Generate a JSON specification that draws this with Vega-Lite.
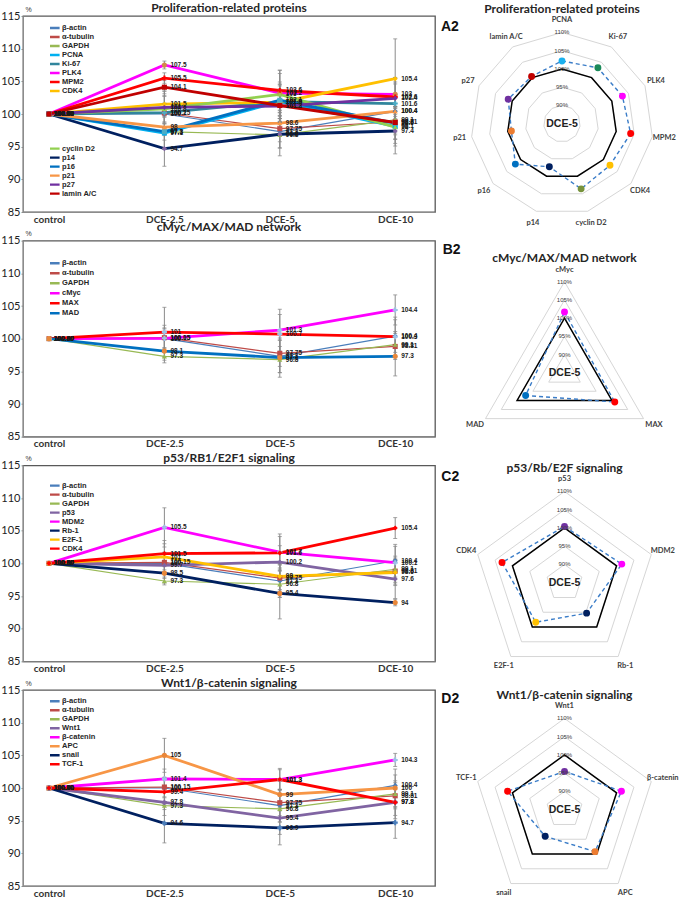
{
"$schema":"https://vega.github.io/schema/vega-lite/v6.json",
"padding":0,
"background":"#ffffff",
"config":{"font":"Lato","view":{"stroke":"#595959","strokeWidth":1.3},"axis":{"grid":false},"title":{"fontSize":12,"fontWeight":"bold","color":"#262626","font":"Lato","anchor":"middle","frame":"group"},"legend":{"symbolType":"M-1.7,0H1.7","symbolStrokeWidth":2.4,"symbolSize":36,"labelFontSize":7.5,"labelFontWeight":"bold","labelFont":"Liberation Sans","labelColor":"#262626","padding":0,"labelOffset":3,"rowPadding":0},"text":{"font":"Liberation Sans"}},
"datasets":{
"linesA":[
{"s":"β-actin","d":"control","v":100,"sd":0},{"s":"β-actin","d":"DCE-2.5","v":100.0,"sd":1.5},{"s":"β-actin","d":"DCE-5","v":97.3,"sd":2.5},{"s":"β-actin","d":"DCE-10","v":100.4,"sd":2.5},
{"s":"α-tubulin","d":"control","v":100,"sd":0},{"s":"α-tubulin","d":"DCE-2.5","v":100.15,"sd":1.5},{"s":"α-tubulin","d":"DCE-5","v":97.75,"sd":2.0},{"s":"α-tubulin","d":"DCE-10","v":98.81,"sd":2.0},
{"s":"GAPDH","d":"control","v":100,"sd":0},{"s":"GAPDH","d":"DCE-2.5","v":97.3,"sd":0.6},{"s":"GAPDH","d":"DCE-5","v":96.8,"sd":2.0},{"s":"GAPDH","d":"DCE-10","v":99.1,"sd":2.0},
{"s":"PCNA","d":"control","v":100,"sd":0},{"s":"PCNA","d":"DCE-2.5","v":97.1,"sd":2.5},{"s":"PCNA","d":"DCE-5","v":101.9,"sd":2.6},{"s":"PCNA","d":"DCE-10","v":98.1,"sd":3.0},
{"s":"Ki-67","d":"control","v":100,"sd":0},{"s":"Ki-67","d":"DCE-2.5","v":100.2,"sd":2.5},{"s":"Ki-67","d":"DCE-5","v":101.9,"sd":3.0},{"s":"Ki-67","d":"DCE-10","v":101.6,"sd":3.0},
{"s":"PLK4","d":"control","v":100,"sd":0},{"s":"PLK4","d":"DCE-2.5","v":107.5,"sd":0.6},{"s":"PLK4","d":"DCE-5","v":103.2,"sd":3.0},{"s":"PLK4","d":"DCE-10","v":103.0,"sd":2.5},
{"s":"MPM2","d":"control","v":100,"sd":0},{"s":"MPM2","d":"DCE-2.5","v":105.5,"sd":0.8},{"s":"MPM2","d":"DCE-5","v":103.6,"sd":3.1},{"s":"MPM2","d":"DCE-10","v":102.6,"sd":3.0},
{"s":"CDK4","d":"control","v":100,"sd":0},{"s":"CDK4","d":"DCE-2.5","v":101.5,"sd":2.0},{"s":"CDK4","d":"DCE-5","v":101.8,"sd":2.5},{"s":"CDK4","d":"DCE-10","v":105.4,"sd":6.1},
{"s":"cyclin D2","d":"control","v":100,"sd":0},{"s":"cyclin D2","d":"DCE-2.5","v":100.8,"sd":2.0},{"s":"cyclin D2","d":"DCE-5","v":103.0,"sd":3.7},{"s":"cyclin D2","d":"DCE-10","v":98.0,"sd":2.5},
{"s":"p14","d":"control","v":100,"sd":0},{"s":"p14","d":"DCE-2.5","v":94.7,"sd":2.7},{"s":"p14","d":"DCE-5","v":96.9,"sd":3.3},{"s":"p14","d":"DCE-10","v":97.4,"sd":3.5},
{"s":"p16","d":"control","v":100,"sd":0},{"s":"p16","d":"DCE-2.5","v":97.3,"sd":2.5},{"s":"p16","d":"DCE-5","v":102.1,"sd":2.5},{"s":"p16","d":"DCE-10","v":98.6,"sd":2.5},
{"s":"p21","d":"control","v":100,"sd":0},{"s":"p21","d":"DCE-2.5","v":98.0,"sd":2.0},{"s":"p21","d":"DCE-5","v":98.6,"sd":2.0},{"s":"p21","d":"DCE-10","v":100.4,"sd":2.5},
{"s":"p27","d":"control","v":100,"sd":0},{"s":"p27","d":"DCE-2.5","v":101.0,"sd":2.5},{"s":"p27","d":"DCE-5","v":101.2,"sd":2.5},{"s":"p27","d":"DCE-10","v":102.4,"sd":2.5},
{"s":"lamin A/C","d":"control","v":100,"sd":0},{"s":"lamin A/C","d":"DCE-2.5","v":104.1,"sd":1.0},{"s":"lamin A/C","d":"DCE-5","v":101.3,"sd":2.5},{"s":"lamin A/C","d":"DCE-10","v":98.7,"sd":2.5}
],
"linesB":[
{"s":"β-actin","d":"control","v":100,"sd":0},{"s":"β-actin","d":"DCE-2.5","v":100.0,"sd":1.5},{"s":"β-actin","d":"DCE-5","v":97.3,"sd":2.5},{"s":"β-actin","d":"DCE-10","v":100.4,"sd":2.5},
{"s":"α-tubulin","d":"control","v":100,"sd":0},{"s":"α-tubulin","d":"DCE-2.5","v":100.15,"sd":1.5},{"s":"α-tubulin","d":"DCE-5","v":97.75,"sd":2.0},{"s":"α-tubulin","d":"DCE-10","v":98.81,"sd":2.0},
{"s":"GAPDH","d":"control","v":100,"sd":0},{"s":"GAPDH","d":"DCE-2.5","v":97.3,"sd":0.6},{"s":"GAPDH","d":"DCE-5","v":96.8,"sd":2.0},{"s":"GAPDH","d":"DCE-10","v":99.1,"sd":2.0},
{"s":"cMyc","d":"control","v":100,"sd":0},{"s":"cMyc","d":"DCE-2.5","v":100.05,"sd":2.0},{"s":"cMyc","d":"DCE-5","v":101.3,"sd":3.2},{"s":"cMyc","d":"DCE-10","v":104.4,"sd":2.3},
{"s":"MAX","d":"control","v":100,"sd":0},{"s":"MAX","d":"DCE-2.5","v":101.0,"sd":3.8},{"s":"MAX","d":"DCE-5","v":100.7,"sd":3.0},{"s":"MAX","d":"DCE-10","v":100.3,"sd":3.0},
{"s":"MAD","d":"control","v":100,"sd":0},{"s":"MAD","d":"DCE-2.5","v":98.1,"sd":1.8},{"s":"MAD","d":"DCE-5","v":97.1,"sd":3.0},{"s":"MAD","d":"DCE-10","v":97.3,"sd":3.0}
],
"linesC":[
{"s":"β-actin","d":"control","v":100,"sd":0},{"s":"β-actin","d":"DCE-2.5","v":100.0,"sd":1.5},{"s":"β-actin","d":"DCE-5","v":97.3,"sd":2.5},{"s":"β-actin","d":"DCE-10","v":100.4,"sd":2.5},
{"s":"α-tubulin","d":"control","v":100,"sd":0},{"s":"α-tubulin","d":"DCE-2.5","v":100.15,"sd":1.5},{"s":"α-tubulin","d":"DCE-5","v":97.75,"sd":2.0},{"s":"α-tubulin","d":"DCE-10","v":98.81,"sd":2.0},
{"s":"GAPDH","d":"control","v":100,"sd":0},{"s":"GAPDH","d":"DCE-2.5","v":97.3,"sd":0.6},{"s":"GAPDH","d":"DCE-5","v":96.8,"sd":2.0},{"s":"GAPDH","d":"DCE-10","v":99.1,"sd":2.0},
{"s":"p53","d":"control","v":100,"sd":0},{"s":"p53","d":"DCE-2.5","v":99.7,"sd":2.0},{"s":"p53","d":"DCE-5","v":100.2,"sd":2.5},{"s":"p53","d":"DCE-10","v":97.6,"sd":3.0},
{"s":"MDM2","d":"control","v":100,"sd":0},{"s":"MDM2","d":"DCE-2.5","v":105.5,"sd":3.0},{"s":"MDM2","d":"DCE-5","v":101.7,"sd":2.8},{"s":"MDM2","d":"DCE-10","v":100.1,"sd":2.5},
{"s":"Rb-1","d":"control","v":100,"sd":0},{"s":"Rb-1","d":"DCE-2.5","v":98.5,"sd":1.5},{"s":"Rb-1","d":"DCE-5","v":95.4,"sd":3.9},{"s":"Rb-1","d":"DCE-10","v":94.0,"sd":0.5},
{"s":"E2F-1","d":"control","v":100,"sd":0},{"s":"E2F-1","d":"DCE-2.5","v":101.0,"sd":2.0},{"s":"E2F-1","d":"DCE-5","v":98.0,"sd":2.0},{"s":"E2F-1","d":"DCE-10","v":98.6,"sd":2.0},
{"s":"CDK4","d":"control","v":100,"sd":0},{"s":"CDK4","d":"DCE-2.5","v":101.5,"sd":2.0},{"s":"CDK4","d":"DCE-5","v":101.6,"sd":2.5},{"s":"CDK4","d":"DCE-10","v":105.4,"sd":1.6}
],
"linesD":[
{"s":"β-actin","d":"control","v":100,"sd":0},{"s":"β-actin","d":"DCE-2.5","v":100.0,"sd":1.5},{"s":"β-actin","d":"DCE-5","v":97.3,"sd":2.5},{"s":"β-actin","d":"DCE-10","v":100.4,"sd":2.5},
{"s":"α-tubulin","d":"control","v":100,"sd":0},{"s":"α-tubulin","d":"DCE-2.5","v":100.15,"sd":1.5},{"s":"α-tubulin","d":"DCE-5","v":97.75,"sd":2.0},{"s":"α-tubulin","d":"DCE-10","v":98.81,"sd":2.0},
{"s":"GAPDH","d":"control","v":100,"sd":0},{"s":"GAPDH","d":"DCE-2.5","v":97.3,"sd":0.6},{"s":"GAPDH","d":"DCE-5","v":96.8,"sd":2.0},{"s":"GAPDH","d":"DCE-10","v":99.1,"sd":2.0},
{"s":"Wnt1","d":"control","v":100,"sd":0},{"s":"Wnt1","d":"DCE-2.5","v":97.8,"sd":2.0},{"s":"Wnt1","d":"DCE-5","v":95.4,"sd":2.5},{"s":"Wnt1","d":"DCE-10","v":97.8,"sd":2.5},
{"s":"β-catenin","d":"control","v":100,"sd":0},{"s":"β-catenin","d":"DCE-2.5","v":101.4,"sd":1.5},{"s":"β-catenin","d":"DCE-5","v":101.3,"sd":1.7},{"s":"β-catenin","d":"DCE-10","v":104.3,"sd":1.0},
{"s":"APC","d":"control","v":100,"sd":0},{"s":"APC","d":"DCE-2.5","v":105.0,"sd":2.6},{"s":"APC","d":"DCE-5","v":99.0,"sd":2.0},{"s":"APC","d":"DCE-10","v":100.0,"sd":2.0},
{"s":"snail","d":"control","v":100,"sd":0},{"s":"snail","d":"DCE-2.5","v":94.6,"sd":3.0},{"s":"snail","d":"DCE-5","v":93.9,"sd":2.6},{"s":"snail","d":"DCE-10","v":94.7,"sd":2.4},
{"s":"TCF-1","d":"control","v":100,"sd":0},{"s":"TCF-1","d":"DCE-2.5","v":99.4,"sd":2.0},{"s":"TCF-1","d":"DCE-5","v":101.3,"sd":1.5},{"s":"TCF-1","d":"DCE-10","v":97.8,"sd":2.0}
],
"radarA":[
{"k":"PCNA","i":0,"n":11,"v":102.2,"c":100,"lev":[90,95,100,105,110]},
{"k":"Ki-67","i":1,"n":11,"v":103.2,"c":100,"lev":[90,95,100,105,110]},
{"k":"PLK4","i":2,"n":11,"v":103.2,"c":100,"lev":[90,95,100,105,110]},
{"k":"MPM2","i":3,"n":11,"v":104.0,"c":100,"lev":[90,95,100,105,110]},
{"k":"CDK4","i":4,"n":11,"v":102.4,"c":100,"lev":[90,95,100,105,110]},
{"k":"cyclin D2","i":5,"n":11,"v":103.6,"c":100,"lev":[90,95,100,105,110]},
{"k":"p14","i":6,"n":11,"v":97.3,"c":100,"lev":[90,95,100,105,110]},
{"k":"p16","i":7,"n":11,"v":101.9,"c":100,"lev":[90,95,100,105,110]},
{"k":"p21","i":8,"n":11,"v":99.0,"c":100,"lev":[90,95,100,105,110]},
{"k":"p27","i":9,"n":11,"v":101.2,"c":100,"lev":[90,95,100,105,110]},
{"k":"lamin A/C","i":10,"n":11,"v":100.4,"c":100,"lev":[90,95,100,105,110]}
],
"radarB":[
{"k":"cMyc","i":0,"n":3,"v":101.7,"c":100,"lev":[90,95,100,105,110]},
{"k":"MAX","i":1,"n":3,"v":100.9,"c":100,"lev":[90,95,100,105,110]},
{"k":"MAD","i":2,"n":3,"v":97.3,"c":100,"lev":[90,95,100,105,110]}
],
"radarC":[
{"k":"p53","i":0,"n":5,"v":100.4,"c":100,"lev":[90,95,100,105,110]},
{"k":"MDM2","i":1,"n":5,"v":101.5,"c":100,"lev":[90,95,100,105,110]},
{"k":"Rb-1","i":2,"n":5,"v":95.3,"c":100,"lev":[90,95,100,105,110]},
{"k":"E2F-1","i":3,"n":5,"v":98.4,"c":100,"lev":[90,95,100,105,110]},
{"k":"CDK4","i":4,"n":5,"v":103.0,"c":100,"lev":[90,95,100,105,110]}
],
"radarD":[
{"k":"Wnt1","i":0,"n":5,"v":95.5,"c":100,"lev":[90,95,100,105,110]},
{"k":"β-catenin","i":1,"n":5,"v":101.4,"c":100,"lev":[90,95,100,105,110]},
{"k":"APC","i":2,"n":5,"v":99.2,"c":100,"lev":[90,95,100,105,110]},
{"k":"snail","i":3,"n":5,"v":94.0,"c":100,"lev":[90,95,100,105,110]},
{"k":"TCF-1","i":4,"n":5,"v":101.4,"c":100,"lev":[90,95,100,105,110]}
],
"ringlab":[{"lev":90,"lab":"90%"},{"lev":95,"lab":"95%"},{"lev":100,"lab":"100%"},{"lev":105,"lab":"105%"},{"lev":110,"lab":"110%"}]
},
"columns":2,
"spacing":{"row":28.67,"column":10},
"bounds":"flush",
"resolve":{"scale":{"color":"independent","shape":"independent","x":"independent","y":"independent"},"legend":{"color":"independent"}},
"concat":[
{"width":412,"height":196,"title":{"text":"Proliferation-related proteins","offset":-9.5},"data":{"name":"linesA"},
"encoding":{"y":{"field":"v","type":"quantitative","title":"%","scale":{"domain":[85,115],"nice":false,"zero":false},"axis":{"values":[85,90,95,100,105,110,115],"grid":false,"labelFont":"Lato","labelFontSize":11,"labelColor":"#222222","labelPadding":1,"tickSize":2,"tickColor":"#8c8c8c","domainColor":"#8c8c8c","titleAngle":0,"titleAlign":"left","titleBaseline":"middle","titleX":2,"titleY":-7,"titleFontSize":7,"titleFontWeight":"normal","titleFont":"Liberation Sans","titleColor":"#333333"}}},
"layer":[
{"data":{"values":[{}]},"mark":{"type":"rule","color":"#c9baa8","strokeWidth":1.3},"encoding":{"y":{"datum":105,"type":"quantitative"}}},
{"data":{"values":[{}]},"mark":{"type":"rule","color":"#c9baa8","strokeWidth":1.3},"encoding":{"y":{"datum":95,"type":"quantitative"}}},
{"layer":[
{"transform":[{"filter":{"field":"s","oneOf":["β-actin","α-tubulin","GAPDH"]}}],"mark":{"type":"line","strokeWidth":1.2},"encoding":{"x":{"field":"d","type":"ordinal","sort":["control","DCE-2.5","DCE-5","DCE-10"],"scale":{"type":"point","domain":["control","DCE-2.5","DCE-5","DCE-10"],"padding":0.285,"align":0.395},"title":null,"axis":{"labelAngle":0,"ticks":false,"domainColor":"#8c8c8c","labelFont":"Lato","labelFontSize":10,"labelFontWeight":"bold","labelColor":"#333333","labelPadding":2}},"color":{"field":"s","type":"nominal","scale":{"domain":["β-actin","α-tubulin","GAPDH","PCNA","Ki-67","PLK4","MPM2","CDK4"],"range":["#4a7ebb","#be4b48","#98b954","#00b0f0","#31859c","#ff00ff","#ff0000","#ffc000"]},"legend":{"title":null,"orient":"none","legendX":27,"legendY":7.8,"rowPadding":0,"clipHeight":8.4,"symbolType":"M-1.7,0H1.7","symbolSize":36,"symbolStrokeWidth":2.4,"labelOffset":3}}}},
{"transform":[{"filter":{"field":"s","oneOf":["PCNA","Ki-67","PLK4","MPM2","CDK4"]}}],"mark":{"type":"line","strokeWidth":2.8},"encoding":{"x":{"field":"d","type":"ordinal","sort":["control","DCE-2.5","DCE-5","DCE-10"],"title":null},"color":{"field":"s","type":"nominal","scale":{"domain":["β-actin","α-tubulin","GAPDH","PCNA","Ki-67","PLK4","MPM2","CDK4"],"range":["#4a7ebb","#be4b48","#98b954","#00b0f0","#31859c","#ff00ff","#ff0000","#ffc000"]},"legend":{"title":null,"orient":"none","legendX":27,"legendY":7.8,"rowPadding":0,"clipHeight":8.4,"symbolType":"M-1.7,0H1.7","symbolSize":36,"symbolStrokeWidth":2.4,"labelOffset":3}}}}
]},
{"transform":[{"filter":{"field":"s","oneOf":["cyclin D2","p14","p16","p21","p27","lamin A/C"]}}],"mark":{"type":"line","strokeWidth":2.8},"encoding":{"x":{"field":"d","type":"ordinal","sort":["control","DCE-2.5","DCE-5","DCE-10"],"title":null},"color":{"field":"s","type":"nominal","scale":{"domain":["cyclin D2","p14","p16","p21","p27","lamin A/C"],"range":["#92d050","#002060","#0070c0","#f79646","#7030a0","#c00000"]},"legend":{"title":null,"orient":"none","legendX":27,"legendY":128.5,"rowPadding":0,"clipHeight":8.3,"symbolType":"M-1.7,0H1.7","symbolSize":36,"symbolStrokeWidth":2.4,"labelOffset":3}}}},
{"transform":[{"filter":"datum.d != 'control'"}],"mark":{"type":"errorbar","ticks":{"size":4,"color":"#7f7f7f"},"rule":{"color":"#8a8a8a","strokeWidth":1}},"encoding":{"x":{"field":"d","type":"ordinal","title":null},"y":{"field":"v","type":"quantitative","title":"%"},"yError":{"field":"sd"}}},
{"mark":{"type":"point","filled":true,"opacity":1,"size":26},"encoding":{"x":{"field":"d","type":"ordinal","title":null},"color":{"field":"s","type":"nominal","scale":{"domain":["β-actin","α-tubulin","GAPDH","PCNA","Ki-67","PLK4","MPM2","CDK4","cyclin D2","p14","p16","p21","p27","lamin A/C"],"range":["#4a7ebb","#be4b48","#98b954","#00b0f0","#4bacc6","#d2874b","#ff0000","#ffc000","#92d050","#8064a2","#4bacc6","#f79646","#7030a0","#c00000"]},"legend":null},"shape":{"field":"s","type":"nominal","scale":{"domain":["β-actin","α-tubulin","GAPDH","PCNA","Ki-67","PLK4","MPM2","CDK4","cyclin D2","p14","p16","p21","p27","lamin A/C"],"range":["diamond","square","triangle-up","square","cross","circle","cross","diamond","triangle-up","diamond","square","triangle-up","diamond","square"]},"legend":null}}},
{"transform":[{"filter":"datum.d != 'control'"}],"mark":{"type":"text","align":"left","baseline":"middle","dx":6,"fontSize":6.5,"fontWeight":"bold","color":"#1a1a1a"},"encoding":{"x":{"field":"d","type":"ordinal","title":null},"text":{"field":"v","type":"quantitative"}}},
{"transform":[{"filter":"datum.d == 'control'"}],"mark":{"type":"text","align":"left","baseline":"middle","dx":5,"fontSize":6.5,"fontWeight":"bold","color":"#1a1a1a"},"encoding":{"x":{"field":"d","type":"ordinal","title":null},"text":{"field":"v","type":"quantitative","format":".2f"}}},
{"data":{"values":[{}]},"mark":{"type":"text","text":"+5%","align":"left","baseline":"middle","dx":-21,"dy":4,"fontSize":7.5,"color":"#222222"},"encoding":{"x":{"datum":"control","type":"ordinal"},"y":{"datum":105,"type":"quantitative"}}},
{"data":{"values":[{}]},"mark":{"type":"text","text":"-5%","align":"left","baseline":"middle","dx":-21,"dy":-4,"fontSize":7.5,"color":"#222222"},"encoding":{"x":{"datum":"control","type":"ordinal"},"y":{"datum":95,"type":"quantitative"}}},
{"data":{"values":[{}]},"mark":{"type":"text","text":"p < 0.0276","align":"right","baseline":"middle","dx":38,"fontSize":7,"color":"#222222"},"encoding":{"x":{"datum":"DCE-10","type":"ordinal"},"y":{"datum":114.2,"type":"quantitative"}}},
{"data":{"values":[{}]},"mark":{"type":"text","text":"A1","align":"center","baseline":"middle","dx":-15,"fontSize":14,"fontWeight":"bold","color":"#111111"},"encoding":{"x":{"datum":"control","type":"ordinal"},"y":{"datum":113.5,"type":"quantitative"}}}
],
"resolve":{"scale":{"color":"independent","shape":"independent"}}},
{"width":240,"height":196,"view":{"stroke":null},"data":{"name":"radarA"},
"layer":[
{"transform":[{"flatten":["lev"]},{"calculate":"2*PI*datum.i/datum.n","as":"a"},{"calculate":"(datum.lev-85)*sin(datum.a)","as":"gx"},{"calculate":"(datum.lev-85)*cos(datum.a)","as":"gy"}],"mark":{"type":"line","interpolate":"linear-closed","color":"#d6d6d6","strokeWidth":1},"encoding":{"x":{"field":"gx","type":"quantitative","scale":{"domain":[-32.05,33.7],"nice":false,"zero":false},"axis":null},"y":{"field":"gy","type":"quantitative","scale":{"domain":[-24.19,29.51],"nice":false,"zero":false},"axis":null},"detail":{"field":"lev","type":"nominal"},"order":{"field":"i","type":"quantitative"}}},
{"transform":[{"calculate":"2*PI*datum.i/datum.n","as":"a"},{"calculate":"(datum.c-85)*sin(datum.a)","as":"gx"},{"calculate":"(datum.c-85)*cos(datum.a)","as":"gy"}],"mark":{"type":"line","interpolate":"linear-closed","color":"#000000","strokeWidth":1.5},"encoding":{"x":{"field":"gx","type":"quantitative"},"y":{"field":"gy","type":"quantitative"},"order":{"field":"i","type":"quantitative"}}},
{"transform":[{"calculate":"2*PI*datum.i/datum.n","as":"a"},{"calculate":"(datum.v-85)*sin(datum.a)","as":"gx"},{"calculate":"(datum.v-85)*cos(datum.a)","as":"gy"}],"mark":{"type":"line","interpolate":"linear-closed","color":"#3b7dc8","strokeWidth":1.4,"strokeDash":[4,3]},"encoding":{"x":{"field":"gx","type":"quantitative"},"y":{"field":"gy","type":"quantitative"},"order":{"field":"i","type":"quantitative"}}},
{"transform":[{"calculate":"2*PI*datum.i/datum.n","as":"a"},{"calculate":"(datum.v-85)*sin(datum.a)","as":"gx"},{"calculate":"(datum.v-85)*cos(datum.a)","as":"gy"}],"mark":{"type":"point","filled":true,"opacity":1,"size":48},"encoding":{"x":{"field":"gx","type":"quantitative"},"y":{"field":"gy","type":"quantitative"},"color":{"field":"k","type":"nominal","scale":{"domain":["PCNA","Ki-67","PLK4","MPM2","CDK4","cyclin D2","p14","p16","p21","p27","lamin A/C"],"range":["#1ab0ee","#1b8a5a","#ff00ff","#ff0000","#ffc000","#77933c","#002060","#0070c0","#ed7d31","#7030a0","#c00000"]},"legend":null}}},
{"transform":[{"calculate":"2*PI*datum.i/datum.n","as":"a"},{"calculate":"28.3*sin(datum.a)","as":"gx"},{"calculate":"28.3*cos(datum.a)","as":"gy"}],"mark":{"type":"text","align":"center","baseline":"middle","font":"Lato","fontSize":7.5,"fontWeight":"bold","color":"#404040"},"encoding":{"x":{"field":"gx","type":"quantitative"},"y":{"field":"gy","type":"quantitative"},"text":{"field":"k"}}},
{"data":{"name":"ringlab"},"transform":[{"calculate":"datum.lev-85","as":"gy"}],"mark":{"type":"text","align":"center","baseline":"middle","fontSize":6,"color":"#404040"},"encoding":{"x":{"datum":0,"type":"quantitative"},"y":{"field":"gy","type":"quantitative"},"text":{"field":"lab"}}},
{"data":{"values":[{}]},"mark":{"type":"text","text":"DCE-5","align":"center","baseline":"middle","fontSize":10.5,"fontWeight":"bold","color":"#222222"},"encoding":{"x":{"datum":0,"type":"quantitative"},"y":{"datum":0,"type":"quantitative"}}},
{"data":{"values":[{}]},"mark":{"type":"text","text":"Proliferation-related proteins","align":"center","baseline":"middle","font":"Lato","fontSize":12,"fontWeight":"bold","color":"#262626"},"encoding":{"x":{"datum":0,"type":"quantitative"},"y":{"datum":31.5,"type":"quantitative"}}},
{"data":{"values":[{}]},"mark":{"type":"text","text":"A2","align":"center","baseline":"middle","fontSize":14,"fontWeight":"bold","color":"#111111"},"encoding":{"x":{"datum":-30.7,"type":"quantitative"},"y":{"datum":26.5,"type":"quantitative"}}}
]},
{"width":412,"height":196,"title":{"text":"cMyc/MAX/MAD network","offset":-4.8},"data":{"name":"linesB"},
"encoding":{"y":{"field":"v","type":"quantitative","title":"%","scale":{"domain":[85,115],"nice":false,"zero":false},"axis":{"values":[85,90,95,100,105,110,115],"grid":false,"labelFont":"Lato","labelFontSize":11,"labelColor":"#222222","labelPadding":1,"tickSize":2,"tickColor":"#8c8c8c","domainColor":"#8c8c8c","titleAngle":0,"titleAlign":"left","titleBaseline":"middle","titleX":2,"titleY":-7,"titleFontSize":7,"titleFontWeight":"normal","titleFont":"Liberation Sans","titleColor":"#333333"}}},
"layer":[
{"data":{"values":[{}]},"mark":{"type":"rule","color":"#c9baa8","strokeWidth":1.3},"encoding":{"y":{"datum":105,"type":"quantitative"}}},
{"data":{"values":[{}]},"mark":{"type":"rule","color":"#c9baa8","strokeWidth":1.3},"encoding":{"y":{"datum":95,"type":"quantitative"}}},
{"layer":[
{"transform":[{"filter":{"field":"s","oneOf":["β-actin","α-tubulin","GAPDH"]}}],"mark":{"type":"line","strokeWidth":1.2},"encoding":{"x":{"field":"d","type":"ordinal","sort":["control","DCE-2.5","DCE-5","DCE-10"],"scale":{"type":"point","domain":["control","DCE-2.5","DCE-5","DCE-10"],"padding":0.285,"align":0.395},"title":null,"axis":{"labelAngle":0,"ticks":false,"domainColor":"#8c8c8c","labelFont":"Lato","labelFontSize":10,"labelFontWeight":"bold","labelColor":"#333333","labelPadding":2}},"color":{"field":"s","type":"nominal","scale":{"domain":["β-actin","α-tubulin","GAPDH","cMyc","MAX","MAD"],"range":["#4a7ebb","#be4b48","#98b954","#ff00ff","#ff0000","#0070c0"]},"legend":{"title":null,"orient":"none","legendX":27,"legendY":17.9,"rowPadding":0,"clipHeight":9.4,"symbolType":"M-1.7,0H1.7","symbolSize":36,"symbolStrokeWidth":2.4,"labelOffset":3}}}},
{"transform":[{"filter":{"field":"s","oneOf":["cMyc","MAX","MAD"]}}],"mark":{"type":"line","strokeWidth":2.8},"encoding":{"x":{"field":"d","type":"ordinal","sort":["control","DCE-2.5","DCE-5","DCE-10"],"title":null},"color":{"field":"s","type":"nominal","scale":{"domain":["β-actin","α-tubulin","GAPDH","cMyc","MAX","MAD"],"range":["#4a7ebb","#be4b48","#98b954","#ff00ff","#ff0000","#0070c0"]},"legend":{"title":null,"orient":"none","legendX":27,"legendY":17.9,"rowPadding":0,"clipHeight":9.4,"symbolType":"M-1.7,0H1.7","symbolSize":36,"symbolStrokeWidth":2.4,"labelOffset":3}}}}
]},
{"transform":[{"filter":"datum.d != 'control'"}],"mark":{"type":"errorbar","ticks":{"size":4,"color":"#7f7f7f"},"rule":{"color":"#8a8a8a","strokeWidth":1}},"encoding":{"x":{"field":"d","type":"ordinal","title":null},"y":{"field":"v","type":"quantitative","title":"%"},"yError":{"field":"sd"}}},
{"mark":{"type":"point","filled":true,"opacity":1,"size":26},"encoding":{"x":{"field":"d","type":"ordinal","title":null},"color":{"field":"s","type":"nominal","scale":{"domain":["β-actin","α-tubulin","GAPDH","cMyc","MAX","MAD"],"range":["#4a7ebb","#be4b48","#98b954","#9dc3e6","#9dc3e6","#e8873a"]},"legend":null},"shape":{"field":"s","type":"nominal","scale":{"domain":["β-actin","α-tubulin","GAPDH","cMyc","MAX","MAD"],"range":["diamond","square","triangle-up","cross","cross","circle"]},"legend":null}}},
{"transform":[{"filter":"datum.d != 'control'"}],"mark":{"type":"text","align":"left","baseline":"middle","dx":6,"fontSize":6.5,"fontWeight":"bold","color":"#1a1a1a"},"encoding":{"x":{"field":"d","type":"ordinal","title":null},"text":{"field":"v","type":"quantitative"}}},
{"transform":[{"filter":"datum.d == 'control'"}],"mark":{"type":"text","align":"left","baseline":"middle","dx":5,"fontSize":6.5,"fontWeight":"bold","color":"#1a1a1a"},"encoding":{"x":{"field":"d","type":"ordinal","title":null},"text":{"field":"v","type":"quantitative","format":".2f"}}},
{"data":{"values":[{}]},"mark":{"type":"text","text":"+5%","align":"left","baseline":"middle","dx":-21,"dy":4,"fontSize":7.5,"color":"#222222"},"encoding":{"x":{"datum":"control","type":"ordinal"},"y":{"datum":105,"type":"quantitative"}}},
{"data":{"values":[{}]},"mark":{"type":"text","text":"-5%","align":"left","baseline":"middle","dx":-21,"dy":-4,"fontSize":7.5,"color":"#222222"},"encoding":{"x":{"datum":"control","type":"ordinal"},"y":{"datum":95,"type":"quantitative"}}},
{"data":{"values":[{}]},"mark":{"type":"text","text":"p < 0.0284","align":"right","baseline":"middle","dx":38,"fontSize":7,"color":"#222222"},"encoding":{"x":{"datum":"DCE-10","type":"ordinal"},"y":{"datum":114.34,"type":"quantitative"}}},
{"data":{"values":[{}]},"mark":{"type":"text","text":"B1","align":"center","baseline":"middle","dx":-15,"fontSize":14,"fontWeight":"bold","color":"#111111"},"encoding":{"x":{"datum":"control","type":"ordinal"},"y":{"datum":113.4,"type":"quantitative"}}}
],
"resolve":{"scale":{"color":"independent","shape":"independent"}}},
{"width":240,"height":196,"view":{"stroke":null},"data":{"name":"radarB"},
"layer":[
{"transform":[{"flatten":["lev"]},{"calculate":"2*PI*datum.i/datum.n","as":"a"},{"calculate":"(datum.lev-85)*sin(datum.a)","as":"gx"},{"calculate":"(datum.lev-85)*cos(datum.a)","as":"gy"}],"mark":{"type":"line","interpolate":"linear-closed","color":"#d6d6d6","strokeWidth":1},"encoding":{"x":{"field":"gx","type":"quantitative","scale":{"domain":[-32.74,33.01],"nice":false,"zero":false},"axis":null},"y":{"field":"gy","type":"quantitative","scale":{"domain":[-17.44,36.25],"nice":false,"zero":false},"axis":null},"detail":{"field":"lev","type":"nominal"},"order":{"field":"i","type":"quantitative"}}},
{"transform":[{"calculate":"2*PI*datum.i/datum.n","as":"a"},{"calculate":"(datum.c-85)*sin(datum.a)","as":"gx"},{"calculate":"(datum.c-85)*cos(datum.a)","as":"gy"}],"mark":{"type":"line","interpolate":"linear-closed","color":"#000000","strokeWidth":1.5},"encoding":{"x":{"field":"gx","type":"quantitative"},"y":{"field":"gy","type":"quantitative"},"order":{"field":"i","type":"quantitative"}}},
{"transform":[{"calculate":"2*PI*datum.i/datum.n","as":"a"},{"calculate":"(datum.v-85)*sin(datum.a)","as":"gx"},{"calculate":"(datum.v-85)*cos(datum.a)","as":"gy"}],"mark":{"type":"line","interpolate":"linear-closed","color":"#3b7dc8","strokeWidth":1.4,"strokeDash":[4,3]},"encoding":{"x":{"field":"gx","type":"quantitative"},"y":{"field":"gy","type":"quantitative"},"order":{"field":"i","type":"quantitative"}}},
{"transform":[{"calculate":"2*PI*datum.i/datum.n","as":"a"},{"calculate":"(datum.v-85)*sin(datum.a)","as":"gx"},{"calculate":"(datum.v-85)*cos(datum.a)","as":"gy"}],"mark":{"type":"point","filled":true,"opacity":1,"size":48},"encoding":{"x":{"field":"gx","type":"quantitative"},"y":{"field":"gy","type":"quantitative"},"color":{"field":"k","type":"nominal","scale":{"domain":["cMyc","MAX","MAD"],"range":["#ff00ff","#ff0000","#0070c0"]},"legend":null}}},
{"transform":[{"calculate":"2*PI*datum.i/datum.n","as":"a"},{"calculate":"28.3*sin(datum.a)","as":"gx"},{"calculate":"28.3*cos(datum.a)","as":"gy"}],"mark":{"type":"text","align":"center","baseline":"middle","font":"Lato","fontSize":7.5,"fontWeight":"bold","color":"#404040"},"encoding":{"x":{"field":"gx","type":"quantitative"},"y":{"field":"gy","type":"quantitative"},"text":{"field":"k"}}},
{"data":{"name":"ringlab"},"transform":[{"calculate":"datum.lev-85","as":"gy"}],"mark":{"type":"text","align":"center","baseline":"middle","fontSize":6,"color":"#404040"},"encoding":{"x":{"datum":0,"type":"quantitative"},"y":{"field":"gy","type":"quantitative"},"text":{"field":"lab"}}},
{"data":{"values":[{}]},"mark":{"type":"text","text":"DCE-5","align":"center","baseline":"middle","fontSize":10.5,"fontWeight":"bold","color":"#222222"},"encoding":{"x":{"datum":0,"type":"quantitative"},"y":{"datum":0,"type":"quantitative"}}},
{"data":{"values":[{}]},"mark":{"type":"text","text":"cMyc/MAX/MAD network","align":"center","baseline":"middle","font":"Lato","fontSize":12,"fontWeight":"bold","color":"#262626"},"encoding":{"x":{"datum":0,"type":"quantitative"},"y":{"datum":31.5,"type":"quantitative"}}},
{"data":{"values":[{}]},"mark":{"type":"text","text":"B2","align":"center","baseline":"middle","fontSize":14,"fontWeight":"bold","color":"#111111"},"encoding":{"x":{"datum":-30.9,"type":"quantitative"},"y":{"datum":33.7,"type":"quantitative"}}}
]},
{"width":412,"height":196,"title":{"text":"p53/RB1/E2F1 signaling","offset":-10.5},"data":{"name":"linesC"},
"encoding":{"y":{"field":"v","type":"quantitative","title":"%","scale":{"domain":[85,115],"nice":false,"zero":false},"axis":{"values":[85,90,95,100,105,110,115],"grid":false,"labelFont":"Lato","labelFontSize":11,"labelColor":"#222222","labelPadding":1,"tickSize":2,"tickColor":"#8c8c8c","domainColor":"#8c8c8c","titleAngle":0,"titleAlign":"left","titleBaseline":"middle","titleX":2,"titleY":-7,"titleFontSize":7,"titleFontWeight":"normal","titleFont":"Liberation Sans","titleColor":"#333333"}}},
"layer":[
{"data":{"values":[{}]},"mark":{"type":"rule","color":"#c9baa8","strokeWidth":1.3},"encoding":{"y":{"datum":105,"type":"quantitative"}}},
{"data":{"values":[{}]},"mark":{"type":"rule","color":"#c9baa8","strokeWidth":1.3},"encoding":{"y":{"datum":95,"type":"quantitative"}}},
{"layer":[
{"transform":[{"filter":{"field":"s","oneOf":["β-actin","α-tubulin","GAPDH"]}}],"mark":{"type":"line","strokeWidth":1.2},"encoding":{"x":{"field":"d","type":"ordinal","sort":["control","DCE-2.5","DCE-5","DCE-10"],"scale":{"type":"point","domain":["control","DCE-2.5","DCE-5","DCE-10"],"padding":0.285,"align":0.395},"title":null,"axis":{"labelAngle":0,"ticks":false,"domainColor":"#8c8c8c","labelFont":"Lato","labelFontSize":10,"labelFontWeight":"bold","labelColor":"#333333","labelPadding":2}},"color":{"field":"s","type":"nominal","scale":{"domain":["β-actin","α-tubulin","GAPDH","p53","MDM2","Rb-1","E2F-1","CDK4"],"range":["#4a7ebb","#be4b48","#98b954","#8064a2","#ff00ff","#002060","#ffc000","#ff0000"]},"legend":{"title":null,"orient":"none","legendX":27,"legendY":16.35,"rowPadding":0,"clipHeight":7.9,"symbolType":"M-1.7,0H1.7","symbolSize":36,"symbolStrokeWidth":2.4,"labelOffset":3}}}},
{"transform":[{"filter":{"field":"s","oneOf":["p53","MDM2","Rb-1","E2F-1","CDK4"]}}],"mark":{"type":"line","strokeWidth":2.8},"encoding":{"x":{"field":"d","type":"ordinal","sort":["control","DCE-2.5","DCE-5","DCE-10"],"title":null},"color":{"field":"s","type":"nominal","scale":{"domain":["β-actin","α-tubulin","GAPDH","p53","MDM2","Rb-1","E2F-1","CDK4"],"range":["#4a7ebb","#be4b48","#98b954","#8064a2","#ff00ff","#002060","#ffc000","#ff0000"]},"legend":{"title":null,"orient":"none","legendX":27,"legendY":16.35,"rowPadding":0,"clipHeight":7.9,"symbolType":"M-1.7,0H1.7","symbolSize":36,"symbolStrokeWidth":2.4,"labelOffset":3}}}}
]},
{"transform":[{"filter":"datum.d != 'control'"}],"mark":{"type":"errorbar","ticks":{"size":4,"color":"#7f7f7f"},"rule":{"color":"#8a8a8a","strokeWidth":1}},"encoding":{"x":{"field":"d","type":"ordinal","title":null},"y":{"field":"v","type":"quantitative","title":"%"},"yError":{"field":"sd"}}},
{"mark":{"type":"point","filled":true,"opacity":1,"size":26},"encoding":{"x":{"field":"d","type":"ordinal","title":null},"color":{"field":"s","type":"nominal","scale":{"domain":["β-actin","α-tubulin","GAPDH","p53","MDM2","Rb-1","E2F-1","CDK4"],"range":["#4a7ebb","#be4b48","#98b954","#8064a2","#9dc3e6","#e8873a","#ffc000","#ff0000"]},"legend":null},"shape":{"field":"s","type":"nominal","scale":{"domain":["β-actin","α-tubulin","GAPDH","p53","MDM2","Rb-1","E2F-1","CDK4"],"range":["diamond","square","triangle-up","diamond","cross","circle","diamond","diamond"]},"legend":null}}},
{"transform":[{"filter":"datum.d != 'control'"}],"mark":{"type":"text","align":"left","baseline":"middle","dx":6,"fontSize":6.5,"fontWeight":"bold","color":"#1a1a1a"},"encoding":{"x":{"field":"d","type":"ordinal","title":null},"text":{"field":"v","type":"quantitative"}}},
{"transform":[{"filter":"datum.d == 'control'"}],"mark":{"type":"text","align":"left","baseline":"middle","dx":5,"fontSize":6.5,"fontWeight":"bold","color":"#1a1a1a"},"encoding":{"x":{"field":"d","type":"ordinal","title":null},"text":{"field":"v","type":"quantitative","format":".2f"}}},
{"data":{"values":[{}]},"mark":{"type":"text","text":"+5%","align":"left","baseline":"middle","dx":-21,"dy":4,"fontSize":7.5,"color":"#222222"},"encoding":{"x":{"datum":"control","type":"ordinal"},"y":{"datum":105,"type":"quantitative"}}},
{"data":{"values":[{}]},"mark":{"type":"text","text":"-5%","align":"left","baseline":"middle","dx":-21,"dy":-4,"fontSize":7.5,"color":"#222222"},"encoding":{"x":{"datum":"control","type":"ordinal"},"y":{"datum":95,"type":"quantitative"}}},
{"data":{"values":[{}]},"mark":{"type":"text","text":"p < 0.024","align":"right","baseline":"middle","dx":38,"fontSize":7,"color":"#222222"},"encoding":{"x":{"datum":"DCE-10","type":"ordinal"},"y":{"datum":113.95,"type":"quantitative"}}},
{"data":{"values":[{}]},"mark":{"type":"text","text":"C1","align":"center","baseline":"middle","dx":-15,"fontSize":14,"fontWeight":"bold","color":"#111111"},"encoding":{"x":{"datum":"control","type":"ordinal"},"y":{"datum":113.3,"type":"quantitative"}}}
],
"resolve":{"scale":{"color":"independent","shape":"independent"}}},
{"width":240,"height":196,"view":{"stroke":null},"data":{"name":"radarC"},
"layer":[
{"transform":[{"flatten":["lev"]},{"calculate":"2*PI*datum.i/datum.n","as":"a"},{"calculate":"(datum.lev-85)*sin(datum.a)","as":"gx"},{"calculate":"(datum.lev-85)*cos(datum.a)","as":"gy"}],"mark":{"type":"line","interpolate":"linear-closed","color":"#d6d6d6","strokeWidth":1},"encoding":{"x":{"field":"gx","type":"quantitative","scale":{"domain":[-32.74,33.01],"nice":false,"zero":false},"axis":null},"y":{"field":"gy","type":"quantitative","scale":{"domain":[-21.54,32.16],"nice":false,"zero":false},"axis":null},"detail":{"field":"lev","type":"nominal"},"order":{"field":"i","type":"quantitative"}}},
{"transform":[{"calculate":"2*PI*datum.i/datum.n","as":"a"},{"calculate":"(datum.c-85)*sin(datum.a)","as":"gx"},{"calculate":"(datum.c-85)*cos(datum.a)","as":"gy"}],"mark":{"type":"line","interpolate":"linear-closed","color":"#000000","strokeWidth":1.5},"encoding":{"x":{"field":"gx","type":"quantitative"},"y":{"field":"gy","type":"quantitative"},"order":{"field":"i","type":"quantitative"}}},
{"transform":[{"calculate":"2*PI*datum.i/datum.n","as":"a"},{"calculate":"(datum.v-85)*sin(datum.a)","as":"gx"},{"calculate":"(datum.v-85)*cos(datum.a)","as":"gy"}],"mark":{"type":"line","interpolate":"linear-closed","color":"#3b7dc8","strokeWidth":1.4,"strokeDash":[4,3]},"encoding":{"x":{"field":"gx","type":"quantitative"},"y":{"field":"gy","type":"quantitative"},"order":{"field":"i","type":"quantitative"}}},
{"transform":[{"calculate":"2*PI*datum.i/datum.n","as":"a"},{"calculate":"(datum.v-85)*sin(datum.a)","as":"gx"},{"calculate":"(datum.v-85)*cos(datum.a)","as":"gy"}],"mark":{"type":"point","filled":true,"opacity":1,"size":48},"encoding":{"x":{"field":"gx","type":"quantitative"},"y":{"field":"gy","type":"quantitative"},"color":{"field":"k","type":"nominal","scale":{"domain":["p53","MDM2","Rb-1","E2F-1","CDK4"],"range":["#7030a0","#ff00ff","#002060","#ffc000","#ff0000"]},"legend":null}}},
{"transform":[{"calculate":"2*PI*datum.i/datum.n","as":"a"},{"calculate":"28.3*sin(datum.a)","as":"gx"},{"calculate":"28.3*cos(datum.a)","as":"gy"}],"mark":{"type":"text","align":"center","baseline":"middle","font":"Lato","fontSize":7.5,"fontWeight":"bold","color":"#404040"},"encoding":{"x":{"field":"gx","type":"quantitative"},"y":{"field":"gy","type":"quantitative"},"text":{"field":"k"}}},
{"data":{"name":"ringlab"},"transform":[{"calculate":"datum.lev-85","as":"gy"}],"mark":{"type":"text","align":"center","baseline":"middle","fontSize":6,"color":"#404040"},"encoding":{"x":{"datum":0,"type":"quantitative"},"y":{"field":"gy","type":"quantitative"},"text":{"field":"lab"}}},
{"data":{"values":[{}]},"mark":{"type":"text","text":"DCE-5","align":"center","baseline":"middle","fontSize":10.5,"fontWeight":"bold","color":"#222222"},"encoding":{"x":{"datum":0,"type":"quantitative"},"y":{"datum":0,"type":"quantitative"}}},
{"data":{"values":[{}]},"mark":{"type":"text","text":"p53/Rb/E2F signaling","align":"center","baseline":"middle","font":"Lato","fontSize":12,"fontWeight":"bold","color":"#262626"},"encoding":{"x":{"datum":0,"type":"quantitative"},"y":{"datum":31.5,"type":"quantitative"}}},
{"data":{"values":[{}]},"mark":{"type":"text","text":"C2","align":"center","baseline":"middle","fontSize":14,"fontWeight":"bold","color":"#111111"},"encoding":{"x":{"datum":-31.3,"type":"quantitative"},"y":{"datum":29.0,"type":"quantitative"}}}
]},
{"width":412,"height":196,"title":{"text":"Wnt1/β-catenin signaling","offset":-11.2},"data":{"name":"linesD"},
"encoding":{"y":{"field":"v","type":"quantitative","title":"%","scale":{"domain":[85,115],"nice":false,"zero":false},"axis":{"values":[85,90,95,100,105,110,115],"grid":false,"labelFont":"Lato","labelFontSize":11,"labelColor":"#222222","labelPadding":1,"tickSize":2,"tickColor":"#8c8c8c","domainColor":"#8c8c8c","titleAngle":0,"titleAlign":"left","titleBaseline":"middle","titleX":2,"titleY":-7,"titleFontSize":7,"titleFontWeight":"normal","titleFont":"Liberation Sans","titleColor":"#333333"}}},
"layer":[
{"data":{"values":[{}]},"mark":{"type":"rule","color":"#c9baa8","strokeWidth":1.3},"encoding":{"y":{"datum":105,"type":"quantitative"}}},
{"data":{"values":[{}]},"mark":{"type":"rule","color":"#c9baa8","strokeWidth":1.3},"encoding":{"y":{"datum":95,"type":"quantitative"}}},
{"layer":[
{"transform":[{"filter":{"field":"s","oneOf":["β-actin","α-tubulin","GAPDH"]}}],"mark":{"type":"line","strokeWidth":1.2},"encoding":{"x":{"field":"d","type":"ordinal","sort":["control","DCE-2.5","DCE-5","DCE-10"],"scale":{"type":"point","domain":["control","DCE-2.5","DCE-5","DCE-10"],"padding":0.285,"align":0.395},"title":null,"axis":{"labelAngle":0,"ticks":false,"domainColor":"#8c8c8c","labelFont":"Lato","labelFontSize":10,"labelFontWeight":"bold","labelColor":"#333333","labelPadding":2}},"color":{"field":"s","type":"nominal","scale":{"domain":["β-actin","α-tubulin","GAPDH","Wnt1","β-catenin","APC","snail","TCF-1"],"range":["#4a7ebb","#be4b48","#98b954","#8064a2","#ff00ff","#f79646","#002060","#ff0000"]},"legend":{"title":null,"orient":"none","legendX":27,"legendY":6.85,"rowPadding":0,"clipHeight":8.9,"symbolType":"M-1.7,0H1.7","symbolSize":36,"symbolStrokeWidth":2.4,"labelOffset":3}}}},
{"transform":[{"filter":{"field":"s","oneOf":["Wnt1","β-catenin","APC","snail","TCF-1"]}}],"mark":{"type":"line","strokeWidth":2.8},"encoding":{"x":{"field":"d","type":"ordinal","sort":["control","DCE-2.5","DCE-5","DCE-10"],"title":null},"color":{"field":"s","type":"nominal","scale":{"domain":["β-actin","α-tubulin","GAPDH","Wnt1","β-catenin","APC","snail","TCF-1"],"range":["#4a7ebb","#be4b48","#98b954","#8064a2","#ff00ff","#f79646","#002060","#ff0000"]},"legend":{"title":null,"orient":"none","legendX":27,"legendY":6.85,"rowPadding":0,"clipHeight":8.9,"symbolType":"M-1.7,0H1.7","symbolSize":36,"symbolStrokeWidth":2.4,"labelOffset":3}}}}
]},
{"transform":[{"filter":"datum.d != 'control'"}],"mark":{"type":"errorbar","ticks":{"size":4,"color":"#7f7f7f"},"rule":{"color":"#8a8a8a","strokeWidth":1}},"encoding":{"x":{"field":"d","type":"ordinal","title":null},"y":{"field":"v","type":"quantitative","title":"%"},"yError":{"field":"sd"}}},
{"mark":{"type":"point","filled":true,"opacity":1,"size":26},"encoding":{"x":{"field":"d","type":"ordinal","title":null},"color":{"field":"s","type":"nominal","scale":{"domain":["β-actin","α-tubulin","GAPDH","Wnt1","β-catenin","APC","snail","TCF-1"],"range":["#4a7ebb","#be4b48","#98b954","#8064a2","#9dc3e6","#e8873a","#4a7ebb","#ff0000"]},"legend":null},"shape":{"field":"s","type":"nominal","scale":{"domain":["β-actin","α-tubulin","GAPDH","Wnt1","β-catenin","APC","snail","TCF-1"],"range":["diamond","square","triangle-up","cross","cross","circle","cross","diamond"]},"legend":null}}},
{"transform":[{"filter":"datum.d != 'control'"}],"mark":{"type":"text","align":"left","baseline":"middle","dx":6,"fontSize":6.5,"fontWeight":"bold","color":"#1a1a1a"},"encoding":{"x":{"field":"d","type":"ordinal","title":null},"text":{"field":"v","type":"quantitative"}}},
{"transform":[{"filter":"datum.d == 'control'"}],"mark":{"type":"text","align":"left","baseline":"middle","dx":5,"fontSize":6.5,"fontWeight":"bold","color":"#1a1a1a"},"encoding":{"x":{"field":"d","type":"ordinal","title":null},"text":{"field":"v","type":"quantitative","format":".2f"}}},
{"data":{"values":[{}]},"mark":{"type":"text","text":"+5%","align":"left","baseline":"middle","dx":-21,"dy":4,"fontSize":7.5,"color":"#222222"},"encoding":{"x":{"datum":"control","type":"ordinal"},"y":{"datum":105,"type":"quantitative"}}},
{"data":{"values":[{}]},"mark":{"type":"text","text":"-5%","align":"left","baseline":"middle","dx":-21,"dy":-4,"fontSize":7.5,"color":"#222222"},"encoding":{"x":{"datum":"control","type":"ordinal"},"y":{"datum":95,"type":"quantitative"}}},
{"data":{"values":[{}]},"mark":{"type":"text","text":"p < 0.023","align":"right","baseline":"middle","dx":38,"fontSize":7,"color":"#222222"},"encoding":{"x":{"datum":"DCE-10","type":"ordinal"},"y":{"datum":114.3,"type":"quantitative"}}},
{"data":{"values":[{}]},"mark":{"type":"text","text":"D1","align":"center","baseline":"middle","dx":-14,"fontSize":14,"fontWeight":"bold","color":"#111111"},"encoding":{"x":{"datum":"control","type":"ordinal"},"y":{"datum":113.6,"type":"quantitative"}}}
],
"resolve":{"scale":{"color":"independent","shape":"independent"}}},
{"width":240,"height":196,"view":{"stroke":null},"data":{"name":"radarD"},
"layer":[
{"transform":[{"flatten":["lev"]},{"calculate":"2*PI*datum.i/datum.n","as":"a"},{"calculate":"(datum.lev-85)*sin(datum.a)","as":"gx"},{"calculate":"(datum.lev-85)*cos(datum.a)","as":"gy"}],"mark":{"type":"line","interpolate":"linear-closed","color":"#d6d6d6","strokeWidth":1},"encoding":{"x":{"field":"gx","type":"quantitative","scale":{"domain":[-32.74,33.01],"nice":false,"zero":false},"axis":null},"y":{"field":"gy","type":"quantitative","scale":{"domain":[-20.9,32.79],"nice":false,"zero":false},"axis":null},"detail":{"field":"lev","type":"nominal"},"order":{"field":"i","type":"quantitative"}}},
{"transform":[{"calculate":"2*PI*datum.i/datum.n","as":"a"},{"calculate":"(datum.c-85)*sin(datum.a)","as":"gx"},{"calculate":"(datum.c-85)*cos(datum.a)","as":"gy"}],"mark":{"type":"line","interpolate":"linear-closed","color":"#000000","strokeWidth":1.5},"encoding":{"x":{"field":"gx","type":"quantitative"},"y":{"field":"gy","type":"quantitative"},"order":{"field":"i","type":"quantitative"}}},
{"transform":[{"calculate":"2*PI*datum.i/datum.n","as":"a"},{"calculate":"(datum.v-85)*sin(datum.a)","as":"gx"},{"calculate":"(datum.v-85)*cos(datum.a)","as":"gy"}],"mark":{"type":"line","interpolate":"linear-closed","color":"#3b7dc8","strokeWidth":1.4,"strokeDash":[4,3]},"encoding":{"x":{"field":"gx","type":"quantitative"},"y":{"field":"gy","type":"quantitative"},"order":{"field":"i","type":"quantitative"}}},
{"transform":[{"calculate":"2*PI*datum.i/datum.n","as":"a"},{"calculate":"(datum.v-85)*sin(datum.a)","as":"gx"},{"calculate":"(datum.v-85)*cos(datum.a)","as":"gy"}],"mark":{"type":"point","filled":true,"opacity":1,"size":48},"encoding":{"x":{"field":"gx","type":"quantitative"},"y":{"field":"gy","type":"quantitative"},"color":{"field":"k","type":"nominal","scale":{"domain":["Wnt1","β-catenin","APC","snail","TCF-1"],"range":["#7030a0","#ff00ff","#ed7d31","#002060","#ff0000"]},"legend":null}}},
{"transform":[{"calculate":"2*PI*datum.i/datum.n","as":"a"},{"calculate":"28.3*sin(datum.a)","as":"gx"},{"calculate":"28.3*cos(datum.a)","as":"gy"}],"mark":{"type":"text","align":"center","baseline":"middle","font":"Lato","fontSize":7.5,"fontWeight":"bold","color":"#404040"},"encoding":{"x":{"field":"gx","type":"quantitative"},"y":{"field":"gy","type":"quantitative"},"text":{"field":"k"}}},
{"data":{"name":"ringlab"},"transform":[{"calculate":"datum.lev-85","as":"gy"}],"mark":{"type":"text","align":"center","baseline":"middle","fontSize":6,"color":"#404040"},"encoding":{"x":{"datum":0,"type":"quantitative"},"y":{"field":"gy","type":"quantitative"},"text":{"field":"lab"}}},
{"data":{"values":[{}]},"mark":{"type":"text","text":"DCE-5","align":"center","baseline":"middle","fontSize":10.5,"fontWeight":"bold","color":"#222222"},"encoding":{"x":{"datum":0,"type":"quantitative"},"y":{"datum":0,"type":"quantitative"}}},
{"data":{"values":[{}]},"mark":{"type":"text","text":"Wnt1/β-catenin signaling","align":"center","baseline":"middle","font":"Lato","fontSize":12,"fontWeight":"bold","color":"#262626"},"encoding":{"x":{"datum":0,"type":"quantitative"},"y":{"datum":31.5,"type":"quantitative"}}},
{"data":{"values":[{}]},"mark":{"type":"text","text":"D2","align":"center","baseline":"middle","fontSize":14,"fontWeight":"bold","color":"#111111"},"encoding":{"x":{"datum":-31.3,"type":"quantitative"},"y":{"datum":30.3,"type":"quantitative"}}}
]}
]
}
